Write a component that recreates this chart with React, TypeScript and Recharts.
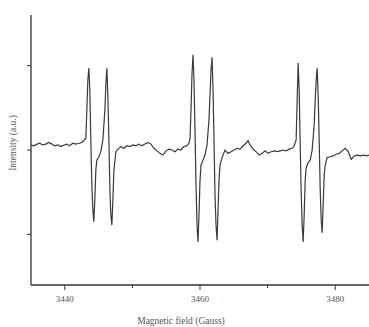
import React from 'react';
import { LineChart, Line, XAxis, YAxis, Label } from 'recharts';

// Magnetic field (Gauss)
const fieldGauss: number[] = [
  3435.0, 3435.4, 3435.9, 3436.3, 3436.7, 3437.2, 3437.6, 3438.1, 3438.5, 3439.0,
  3439.4, 3439.9, 3440.3, 3440.7, 3441.2, 3441.6, 3442.1, 3442.5, 3442.8, 3443.11,
  3443.26, 3443.41, 3443.56, 3443.70, 3443.85, 3444.00, 3444.15, 3444.30, 3444.44, 3444.59,
  3444.74, 3445.04, 3445.33, 3445.63, 3445.93, 3446.07, 3446.22, 3446.37, 3446.52, 3446.67,
  3446.81, 3446.96, 3447.11, 3447.26, 3447.56, 3447.85,
  3448.30, 3448.74, 3449.19, 3449.63, 3450.07, 3450.52, 3450.96, 3451.41, 3451.85, 3452.30,
  3452.74, 3453.19, 3453.63, 3454.07, 3454.52, 3454.96, 3455.41, 3455.85, 3456.30, 3456.74,
  3457.19, 3457.63, 3458.07, 3458.37, 3458.52,
  3458.67, 3458.81, 3458.96, 3459.11, 3459.26, 3459.41, 3459.56, 3459.70, 3459.85, 3460.00,
  3460.15, 3460.44, 3460.74, 3461.04, 3461.33, 3461.48, 3461.63, 3461.78, 3461.93, 3462.07,
  3462.22, 3462.37, 3462.52, 3462.67, 3462.81, 3462.96, 3463.26,
  3463.70, 3464.15, 3464.59, 3465.04, 3465.48, 3465.93, 3466.37, 3466.81, 3467.11, 3467.41,
  3467.85, 3468.30, 3468.74, 3469.19, 3469.63, 3470.07, 3470.52, 3470.96, 3471.41, 3471.85,
  3472.30, 3472.74, 3473.19, 3473.63, 3473.93, 3474.22,
  3474.37, 3474.52, 3474.67, 3474.81, 3474.96, 3475.11, 3475.26, 3475.41, 3475.56, 3475.70,
  3476.00, 3476.30, 3476.59, 3476.89, 3477.04, 3477.19, 3477.33, 3477.48, 3477.63, 3477.78,
  3477.93, 3478.07, 3478.22, 3478.37, 3478.52, 3478.81,
  3479.26, 3479.70, 3480.15, 3480.59, 3481.04, 3481.48, 3481.93, 3482.37, 3482.81, 3483.26,
  3483.70, 3484.15, 3484.59, 3485.0,
];

// Intensity (a.u.)
const intensity: number[] = [
  0.06, 0.05, 0.07, 0.08, 0.06, 0.07, 0.09, 0.07, 0.05, 0.06,
  0.04, 0.06, 0.07, 0.05, 0.08, 0.07, 0.08, 0.09, 0.11, 0.14,
  0.47, 0.83, 0.97, 0.71, 0.12, -0.41, -0.71, -0.85, -0.59, -0.24,
  -0.12, -0.08, -0.02, 0.12, 0.47, 0.77, 0.97, 0.65, 0.12, -0.47,
  -0.77, -0.89, -0.59, -0.24, -0.02, 0.01,
  0.04, 0.02, 0.05, 0.04, 0.06, 0.05, 0.07, 0.05, 0.07, 0.09,
  0.07, 0.02, -0.01, -0.04, -0.06, -0.01, 0.01, 0.0, -0.02, 0.01,
  0.0, 0.04, 0.05, 0.08, 0.14,
  0.47, 0.89, 1.13, 0.83, 0.24, -0.41, -0.89, -1.09, -0.77, -0.36,
  -0.18, -0.12, -0.06, 0.06, 0.36, 0.65, 0.95, 1.10, 0.71, 0.12,
  -0.53, -0.89, -1.07, -0.71, -0.36, -0.18, -0.09,
  0.0, -0.04, -0.02, 0.0, 0.02, 0.01, 0.05, 0.08, 0.11, 0.06,
  0.01, -0.02, -0.06, -0.04, -0.01, -0.04, -0.02, -0.01, -0.02, -0.01,
  0.0, -0.01, 0.01, 0.02, 0.05, 0.12,
  0.59, 1.03, 0.71, 0.12, -0.47, -0.89, -1.09, -0.77, -0.36, -0.21,
  -0.15, -0.12, 0.0, 0.30, 0.59, 0.83, 0.97, 0.65, 0.12, -0.47,
  -0.83, -0.98, -0.65, -0.30, -0.18, -0.09,
  -0.08, -0.07, -0.05, -0.04, -0.01, 0.02, -0.02, -0.11, -0.07, -0.06,
  -0.07, -0.06, -0.07, -0.06,
];

const xTicks: number[] = [3440, 3450, 3460, 3470, 3480];
const xTickLabels: Record<number, string> = { 3440: '3440', 3460: '3460', 3480: '3480' };
const yTicks: number[] = [-1, 0, 1];

const data = fieldGauss.map((f, i) => ({ field: f, intensity: intensity[i] }));

const FONT = '"Liberation Serif", "DejaVu Serif", serif';
const INK = '#333';

const XTick = (props: any) => {
  const { x, y, payload } = props;
  const label = xTickLabels[payload.value];
  const len = label ? 5 : 3;
  return (
    <g>
      <line x1={x} y1={y} x2={x} y2={y + len} stroke={INK} strokeWidth={1} />
      {label ? (
        <text x={x} y={y + 17} textAnchor="middle" fontFamily={FONT} fontSize={9} fill="#555">
          {label}
        </text>
      ) : null}
    </g>
  );
};

export default function App() {
  return (
    <div style={{ position: 'absolute', left: 0, top: 0, background: '#fff' }}>
      <LineChart
        width={369}
        height={327}
        data={data}
        margin={{ top: 15, right: 0, bottom: 0, left: 0 }}
      >
        <XAxis
          dataKey="field"
          type="number"
          domain={[3435, 3485]}
          ticks={xTicks}
          allowDataOverflow
          height={42}
          tickSize={0}
          tickMargin={0}
          tickLine={false}
          tick={<XTick />}
          axisLine={{ stroke: INK, strokeWidth: 1.3 }}
          interval={0}
        >
          <Label
            content={(p: any) => {
              const vb = p.viewBox || {};
              return (
                <text
                  x={vb.x + vb.width / 2 - 19}
                  y={vb.y + vb.height - 3}
                  textAnchor="middle"
                  fontFamily={FONT}
                  fontSize={9.5}
                  fill="#555"
                >
                  Magnetic field (Gauss)
                </text>
              );
            }}
          />
        </XAxis>
        <YAxis
          type="number"
          domain={[-1.6, 1.6]}
          ticks={yTicks}
          width={31}
          tickSize={4}
          tickFormatter={() => ''}
          tickLine={{ stroke: INK, strokeWidth: 1 }}
          axisLine={{ stroke: INK, strokeWidth: 1.3 }}
        >
          <Label
            content={(p: any) => {
              const vb = p.viewBox || {};
              const cx = 14;
              const cy = vb.y + vb.height / 2 - 7;
              return (
                <text
                  x={cx}
                  y={cy}
                  transform={`rotate(-90 ${cx} ${cy})`}
                  textAnchor="middle"
                  dominantBaseline="middle"
                  fontFamily={FONT}
                  fontSize={9.5}
                  fill="#555"
                >
                  Intensity (a.u.)
                </text>
              );
            }}
          />
        </YAxis>
        <Line
          type="linear"
          dataKey="intensity"
          stroke="#3a3a3a"
          strokeWidth={1.2}
          dot={false}
          isAnimationActive={false}
        />
      </LineChart>
    </div>
  );
}
